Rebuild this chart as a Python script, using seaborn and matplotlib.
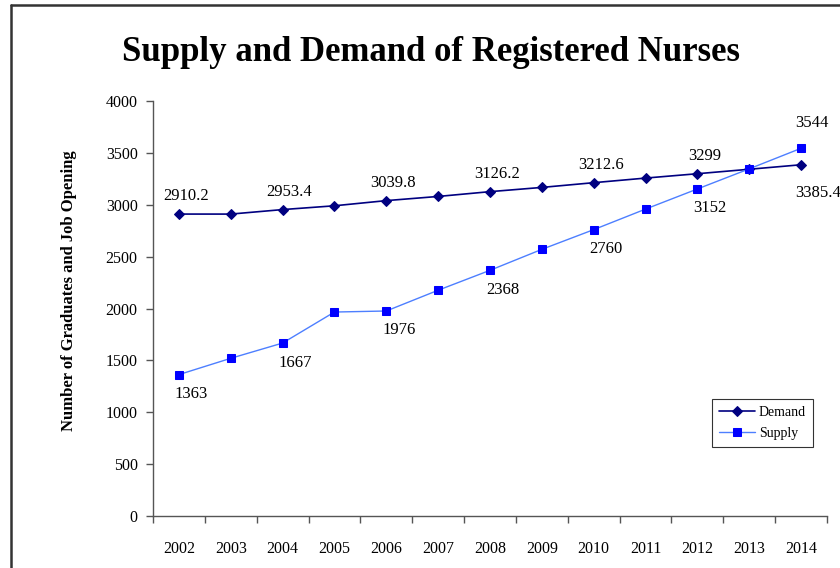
import numpy as np
import pandas as pd
import seaborn as sns
import matplotlib
matplotlib.use("Agg")
import matplotlib.pyplot as plt
from matplotlib.lines import Line2D
from matplotlib.ticker import FixedLocator

# data
years = [2002, 2003, 2004, 2005, 2006, 2007, 2008, 2009, 2010, 2011, 2012, 2013, 2014]
demand = [2910.2, 2910.0, 2953.4, 2990.0, 3039.8, 3080.0, 3126.2, 3167.0, 3212.6, 3257.0, 3299.0, 3342.0, 3385.4]
supply = [1363, 1520, 1667, 1966, 1976, 2176, 2368, 2570, 2760, 2958, 3152, 3346, 3544]
label_years = [2002, 2004, 2006, 2008, 2010, 2012, 2014]

df = pd.DataFrame({"year": years, "Demand": demand, "Supply": supply})

sns.set_style("white")
plt.rcParams['font.family'] = ['Liberation Serif', 'DejaVu Serif']
plt.rcParams.update({"text.color": "black", "axes.labelcolor": "black",
                     "xtick.color": "black", "ytick.color": "black"})

fig = plt.figure(figsize=(8.4, 5.68), dpi=100)
ax = fig.add_axes([0.1821, 0.0915, 0.8024, 0.7307])

sns.lineplot(data=df, x="year", y="Demand", ax=ax, color="#000080", linewidth=1.2,
             marker="D", markersize=5, markerfacecolor="#000080", markeredgecolor="#000080",
             label="Demand")
sns.lineplot(data=df, x="year", y="Supply", ax=ax, color="#4D7FFF", linewidth=1.0,
             marker="s", markersize=6, markerfacecolor="#0000FF", markeredgecolor="#0000FF",
             label="Supply")

# data labels
for y, d, s in zip(years, demand, supply):
    if y not in label_years:
        continue
    dtxt = f"{d:g}"
    stxt = f"{s:g}"
    if y == 2014:
        ax.annotate(dtxt, (y, d), xytext=(-4, -20), textcoords="offset points",
                    ha="left", va="center", fontsize=12)
        ax.annotate(stxt, (y, s), xytext=(8, 18), textcoords="offset points",
                    ha="center", va="center", fontsize=12)
    else:
        ax.annotate(dtxt, (y, d), xytext=(5, 13), textcoords="offset points",
                    ha="center", va="center", fontsize=12)
        ax.annotate(stxt, (y, s), xytext=(9, -14), textcoords="offset points",
                    ha="center", va="center", fontsize=12)

ax.set_xlim(2001.5, 2014.5)
ax.set_ylim(0, 4000)
ax.set_yticks(np.arange(0, 4001, 500))
ax.set_xticks(years)
ax.set_xticklabels([str(y) for y in years])
ax.xaxis.set_minor_locator(FixedLocator(np.arange(2001.5, 2015, 1)))
ax.tick_params(axis="x", which="major", length=0, pad=18, labelsize=11.5)
ax.tick_params(axis="x", which="minor", length=5, width=1, color="#555555", direction="out", bottom=True)
ax.tick_params(axis="y", which="major", length=5, width=1, color="#555555", direction="out", left=True,
               labelsize=11.5, pad=6)

for side in ["top", "right"]:
    ax.spines[side].set_visible(False)
for side in ["left", "bottom"]:
    ax.spines[side].set_color("#555555")
    ax.spines[side].set_linewidth(1)

ax.set_xlabel("")
ax.set_ylabel("Number of Graduates and Job Opening", fontsize=12, fontweight="bold")
ax.yaxis.set_label_coords(-0.113, 0.542)

fig.text(0.513, 0.908, "Supply and Demand of Registered Nurses", ha="center", va="center",
         fontsize=25, fontweight="bold")

leg = ax.legend(loc="upper left", bbox_to_anchor=(0.829, 0.283), fontsize=10, frameon=True,
                fancybox=False, edgecolor="black", handlelength=2.6, borderpad=0.5,
                labelspacing=0.6, handletextpad=0.3, borderaxespad=0)
leg.get_frame().set_linewidth(0.8)

# outer frame lines
fig.add_artist(Line2D([11 / 840, 1], [1 - 5 / 568, 1 - 5 / 568], transform=fig.transFigure,
                      color="#333333", linewidth=1.8))
fig.add_artist(Line2D([11 / 840, 11 / 840], [0, 1 - 5 / 568], transform=fig.transFigure,
                      color="#333333", linewidth=1.8))

fig.savefig("out.png", dpi=100)
